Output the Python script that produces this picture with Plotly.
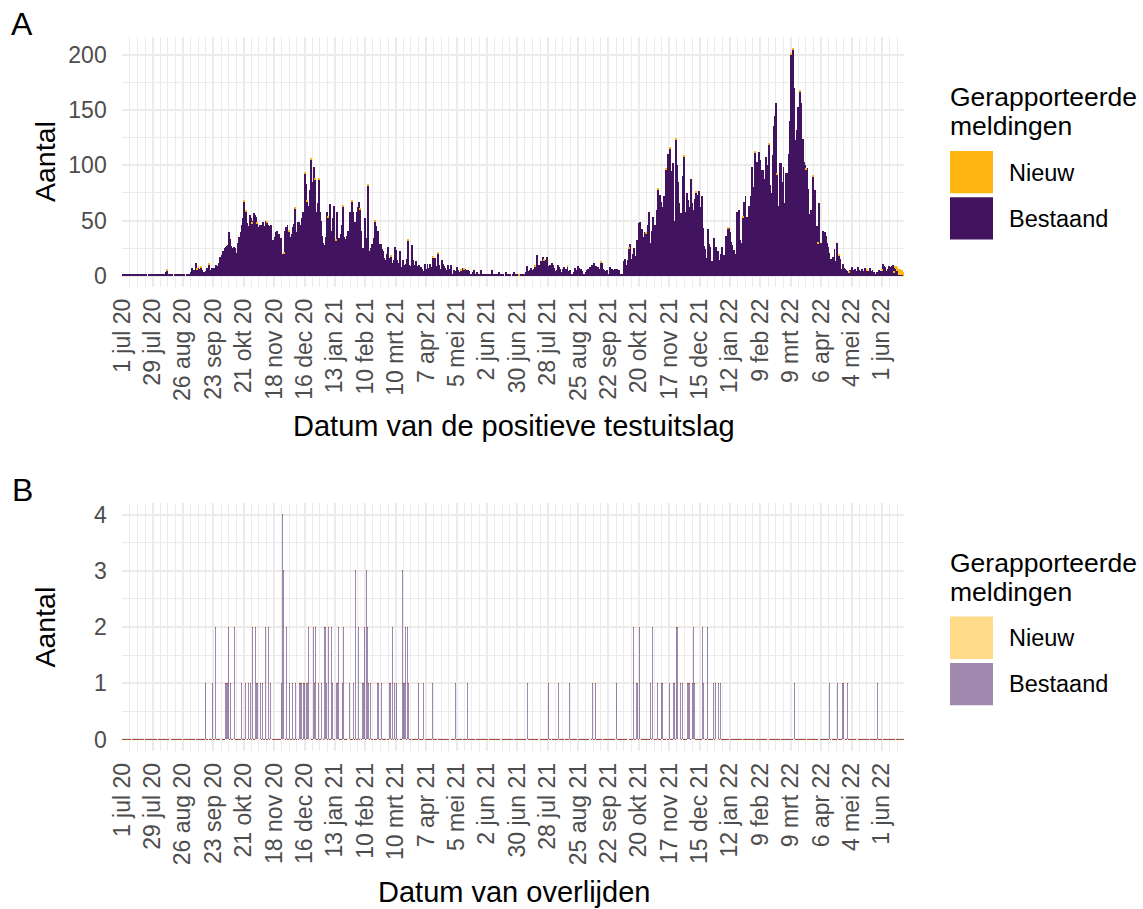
import pandas as pd
import plotly.graph_objects as go

START = "2020-07-01"

# Daily positive tests already known (Bestaand), 1 jul 2020 - 21 jun 2022, four weeks per line
BESTAAND_TESTS = [
    1, 1, 0, 1, 1, 1, 0, 1, 1, 0, 1, 1, 1, 0, 1, 1, 1, 1, 0, 1, 1, 1, 1, 0, 2, 1, 1, 1,
    1, 1, 2, 1, 1, 0, 1, 1, 2, 1, 1, 2, 3, 5, 1, 0, 1, 1, 1, 0, 1, 0, 1, 0, 1, 1, 1, 1,
    1, 1, 0, 1, 1, 2, 1, 3, 7, 4, 5, 4, 12, 6, 7, 6, 7, 5, 3, 3, 3, 4, 7, 6, 10, 5, 7, 7,
    7, 6, 10, 8, 9, 12, 17, 14, 19, 22, 25, 26, 27, 28, 40, 33, 27, 24, 25, 26, 25, 21, 30, 35, 32, 40, 46, 52,
    67, 60, 58, 48, 45, 55, 52, 47, 50, 57, 55, 53, 47, 44, 43, 46, 46, 49, 45, 42, 50, 48, 46, 45, 40, 46, 25, 32,
    35, 40, 41, 32, 38, 34, 34, 16, 20, 20, 41, 44, 46, 40, 35, 34, 38, 44, 47, 61, 40, 32, 49, 49, 46, 52, 58, 56,
    93, 83, 67, 63, 61, 78, 105, 85, 99, 87, 58, 50, 66, 87, 58, 50, 36, 30, 28, 35, 58, 53, 48, 65, 41, 22, 52, 63,
    23, 32, 58, 34, 32, 38, 46, 63, 35, 33, 33, 36, 41, 40, 58, 67, 58, 46, 49, 41, 58, 62, 67, 60, 41, 23, 25, 52,
    34, 32, 82, 20, 22, 25, 29, 29, 34, 49, 45, 41, 17, 29, 29, 24, 22, 16, 10, 14, 20, 26, 16, 17, 10, 12, 14, 26,
    23, 14, 12, 11, 22, 8, 14, 10, 8, 11, 15, 32, 10, 7, 9, 28, 14, 10, 13, 9, 5, 10, 8, 8, 6, 2, 4, 11,
    6, 11, 7, 11, 8, 5, 16, 7, 16, 5, 9, 20, 10, 6, 14, 11, 9, 7, 5, 3, 10, 6, 5, 10, 2, 5, 4, 3,
    8, 5, 3, 1, 5, 6, 7, 6, 6, 5, 5, 4, 2, 1, 2, 3, 5, 2, 1, 3, 1, 1, 5, 1, 0, 1, 0, 1,
    2, 1, 1, 2, 5, 1, 1, 0, 1, 1, 0, 3, 1, 1, 0, 1, 0, 3, 1, 0, 1, 1, 0, 0, 1, 3, 1, 1,
    1, 0, 1, 1, 0, 1, 2, 2, 3, 9, 4, 5, 7, 5, 5, 6, 8, 8, 19, 7, 10, 9, 13, 17, 14, 14, 12, 17,
    4, 9, 10, 6, 12, 10, 7, 4, 5, 10, 8, 6, 3, 1, 6, 8, 5, 6, 8, 4, 5, 2, 1, 1, 3, 7, 5, 4,
    9, 7, 6, 4, 1, 2, 1, 3, 5, 6, 5, 8, 8, 10, 12, 6, 9, 4, 8, 6, 5, 12, 12, 6, 5, 4, 5, 2,
    2, 8, 2, 6, 5, 4, 6, 2, 6, 5, 2, 1, 1, 1, 13, 15, 10, 6, 14, 25, 29, 15, 20, 25, 10, 18, 32, 30,
    48, 49, 32, 42, 35, 40, 38, 31, 46, 58, 20, 30, 41, 53, 41, 46, 60, 78, 55, 73, 67, 58, 62, 72, 44, 96, 84, 110,
    115, 95, 81, 102, 49, 50, 123, 100, 85, 66, 46, 57, 90, 108, 58, 55, 75, 69, 62, 50, 88, 66, 60, 70, 75, 67, 73, 77,
    62, 55, 72, 43, 27, 24, 16, 42, 29, 26, 13, 13, 13, 34, 20, 26, 22, 22, 14, 20, 26, 17, 19, 19, 36, 17, 43, 43,
    40, 31, 28, 23, 14, 20, 58, 38, 60, 32, 30, 27, 53, 67, 72, 53, 50, 63, 56, 72, 99, 80, 76, 112, 96, 103, 112, 105,
    96, 61, 96, 88, 50, 108, 91, 100, 119, 82, 75, 109, 136, 145, 157, 92, 63, 56, 102, 102, 85, 99, 66, 93, 93, 93, 110, 140,
    200, 151, 205, 170, 123, 132, 153, 132, 167, 157, 84, 124, 103, 100, 96, 98, 79, 56, 60, 56, 90, 74, 78, 38, 45, 29, 66, 26,
    30, 41, 34, 40, 36, 30, 26, 21, 15, 13, 15, 17, 24, 13, 30, 16, 18, 15, 6, 6, 11, 7, 6, 5, 4, 3, 5, 4,
    8, 3, 5, 6, 4, 2, 8, 5, 4, 6, 1, 4, 7, 6, 5, 2, 4, 7, 4, 5, 3, 2, 2, 3, 3, 5, 4, 2,
    5, 11, 9, 8, 4, 6, 9, 7, 8, 9, 10, 3, 7, 6, 4, 1, 1, 1, 1, 1, 0,
]

# Newly reported positive tests: day offset from START and count
NIEUW_TEST_DAG = [
    41, 69, 70, 72, 80, 112, 114, 119, 124, 133, 149, 153, 159, 168, 170, 174, 177, 181,
    189, 197, 203, 211, 219, 226, 233, 247, 263, 286, 291, 312, 315, 365, 380, 388, 410,
    441, 467, 482, 493, 501, 504, 510, 517, 528, 558, 572, 583, 596, 603, 616, 618, 624,
    630, 636, 641, 660, 669, 686, 700,
    711, 712, 713, 714, 715, 716, 717, 718, 719, 720,
]
NIEUW_TEST_AANTAL = [
    1, 1, 1, 1, 1, 2, 1, 1, 1, 1, 1, 1, 1, 1, 1, 2, 1, 1,
    1, 1, 1, 1, 1, 1, 1, 1, 1, 1, 1, 1, 1, 1, 1, 1, 1,
    1, 1, 1, 1, 1, 1, 1, 1, 1, 1, 1, 1, 1, 1, 1, 1, 1,
    1, 1, 1, 1, 1, 1, 1,
    1, 2, 3, 4, 5, 5, 4, 4, 2, 2,
]

# Deaths by date of death (all previously reported): day offset from START and count
OVERLIJDEN_DAG = [
    77, 83, 86, 91, 95, 96, 97, 98, 100, 103, 110, 114, 116, 118, 120, 123, 124, 125, 126,
    127, 129, 132, 135, 137, 147, 148, 149, 151, 154, 157, 160, 163, 164, 165, 167, 168,
    170, 171, 172, 176, 177, 178, 181, 184, 186, 187, 188, 190, 193, 194, 197, 198, 199,
    203, 204, 209, 213, 215, 218, 221, 222, 223, 225, 226, 227, 229, 235, 236, 239, 246,
    247, 249, 251, 253, 258, 259, 260, 261, 263, 264, 273, 278, 286, 302, 307, 318, 373,
    393, 402, 412, 433, 436, 455, 471, 474, 475, 477, 487, 489, 493, 497, 498, 504, 508,
    509, 511, 512, 513, 514, 516, 521, 522, 523, 525, 526, 527, 535, 536, 539, 545, 547,
    549, 551, 619, 652, 659, 664, 665, 668, 677, 696,
]
OVERLIJDEN_AANTAL = [
    1, 1, 2, 1, 1, 1, 1, 2, 1, 2, 1, 1, 1, 1, 2, 2, 1, 1, 1,
    1, 1, 2, 2, 1, 1, 4, 3, 2, 1, 1, 1, 1, 1, 1, 1, 1,
    1, 1, 2, 2, 1, 2, 1, 1, 2, 2, 1, 2, 2, 1, 1, 1, 2,
    1, 2, 1, 1, 3, 2, 1, 1, 2, 3, 2, 1, 1, 1, 1, 1, 1,
    1, 2, 1, 1, 3, 1, 1, 2, 2, 1, 1, 1, 1, 1, 1, 1, 1,
    1, 1, 1, 1, 1, 1, 2, 1, 1, 2, 1, 2, 1, 1, 1, 1, 1,
    1, 2, 2, 1, 1, 1, 1, 1, 1, 1, 2, 1, 2, 1, 2, 1, 1,
    1, 1, 1, 1, 1, 1, 1, 1, 1, 1,
]

TICK_LABELS = [
    "1 jul 20", "29 jul 20", "26 aug 20", "23 sep 20", "21 okt 20", "18 nov 20",
    "16 dec 20", "13 jan 21", "10 feb 21", "10 mrt 21", "7 apr 21", "5 mei 21",
    "2 jun 21", "30 jun 21", "28 jul 21", "25 aug 21", "22 sep 21", "20 okt 21",
    "17 nov 21", "15 dec 21", "12 jan 22", "9 feb 22", "9 mrt 22", "6 apr 22",
    "4 mei 22", "1 jun 22",
]

PURPLE = "#42145F"
ORANGE = "#FFB612"
PURPLE_LIGHT = "rgba(66,20,95,0.5)"
ORANGE_LIGHT = "rgba(255,182,18,0.5)"
ZERO_EDGE = "#A5523C"
GRID = "#EBEBEB"
FONT = "Liberation Sans, Arial, sans-serif"

W, H = 1143, 909

# ---- assemble daily series ----
n_days = len(BESTAAND_TESTS)
dates = pd.date_range(START, periods=n_days, freq="D")
nieuw_tests = pd.Series(0, index=range(n_days))
nieuw_tests[NIEUW_TEST_DAG] = NIEUW_TEST_AANTAL
overlijden = pd.Series(0, index=range(n_days))
overlijden[OVERLIJDEN_DAG] = OVERLIJDEN_AANTAL
overlijden_nieuw = pd.Series(0, index=range(n_days))

tick_dates = pd.date_range(START, periods=len(TICK_LABELS), freq="28D")
minor_dates = pd.date_range(START, dates[-1], freq="7D")
x_range = [dates[0] - pd.Timedelta(hours=12), dates[-1] + pd.Timedelta(hours=12)]


def px_x(x):
    return x / W


def px_y(y):
    return 1 - y / H


fig = go.Figure()

fig.add_bar(x=dates, y=BESTAAND_TESTS, name="Bestaand", marker=dict(color=PURPLE, line=dict(width=0)),
            xaxis="x", yaxis="y", showlegend=False)
fig.add_bar(x=dates, y=nieuw_tests, name="Nieuw", marker=dict(color=ORANGE, line=dict(width=0)),
            xaxis="x", yaxis="y", showlegend=False)
fig.add_bar(x=dates, y=overlijden, name="Bestaand", marker=dict(color=PURPLE_LIGHT, line=dict(width=0)),
            xaxis="x2", yaxis="y2", showlegend=False)
fig.add_bar(x=dates, y=overlijden_nieuw, name="Nieuw",
            marker=dict(color=ORANGE_LIGHT, line=dict(width=1, color=ZERO_EDGE)),
            xaxis="x2", yaxis="y2", showlegend=False)

TICK_FONT = dict(family=FONT, size=23, color="#4D4D4D")
x_dom = [121.7 / W, 904.2 / W]
common_x = dict(
    type="date", range=x_range, domain=x_dom,
    tickmode="array", tickvals=tick_dates, ticktext=TICK_LABELS, tickangle=-90,
    tickfont=TICK_FONT,
    showgrid=True, gridcolor=GRID, gridwidth=2,
    minor=dict(tickmode="array", tickvals=minor_dates, showgrid=True, gridcolor=GRID, gridwidth=1),
    ticks="", showline=False, zeroline=False, ticklabelstandoff=6, automargin=False,
)
common_y = dict(
    tickfont=TICK_FONT,
    showgrid=True, gridcolor=GRID, gridwidth=2,
    ticks="", showline=False, zeroline=False, ticklabelstandoff=14, automargin=False,
)

fig.update_layout(
    width=W, height=H,
    margin=dict(l=0, r=0, t=0, b=0, pad=0, autoexpand=False),
    paper_bgcolor="white", plot_bgcolor="white",
    barmode="stack", bargap=0.1, showlegend=False,
    font=dict(family=FONT, color="black"),
    xaxis=dict(common_x, anchor="y"),
    yaxis=dict(common_y, anchor="x", domain=[px_y(287.1), px_y(37.1)], range=[-10.3, 216.3],
               tickvals=[0, 50, 100, 150, 200],
               minor=dict(tickvals=[25, 75, 125, 175], showgrid=True, gridcolor=GRID, gridwidth=1)),
    xaxis2=dict(common_x, anchor="y2"),
    yaxis2=dict(common_y, anchor="x2", domain=[px_y(751.3), px_y(502.7)], range=[-0.21, 4.21],
                tickvals=[0, 1, 2, 3, 4],
                minor=dict(tickvals=[0.5, 1.5, 2.5, 3.5], showgrid=True, gridcolor=GRID, gridwidth=1)),
)

annotations = []
shapes = []


def text(x, y, s, size, anchor="center", angle=0):
    annotations.append(dict(
        x=px_x(x), y=px_y(y), xref="paper", yref="paper", text=s, showarrow=False,
        xanchor=anchor, yanchor="middle", textangle=angle,
        font=dict(family=FONT, size=size, color="black"),
    ))


panels = [
    ("A", 0, "Datum van de positieve testuitslag", ORANGE, PURPLE),
    ("B", 465.6, "Datum van overlijden", ORANGE_LIGHT, PURPLE_LIGHT),
]
for letter, dy, xtitle, c_new, c_old in panels:
    text(22, 24 + dy, letter, 32)
    text(45, 162 + dy, "Aantal", 28.5, angle=-90)
    text(513.5, 426 + dy, xtitle, 29)
    # legend
    text(948, 97 + dy, "Gerapporteerde", 26.5, anchor="left")
    text(948, 126 + dy, "meldingen", 26.5, anchor="left")
    for i, (col, lab) in enumerate([(c_new, "Nieuw"), (c_old, "Bestaand")]):
        top = 151 + dy + i * 46.3
        shapes.append(dict(type="rect", xref="paper", yref="paper",
                           x0=px_x(950), x1=px_x(993), y0=px_y(top + 42.3), y1=px_y(top),
                           fillcolor=col, line=dict(width=0)))
        text(1007, top + 21.5, lab, 23.5, anchor="left")

fig.update_layout(annotations=annotations, shapes=shapes)

fig.write_html("out.html")
